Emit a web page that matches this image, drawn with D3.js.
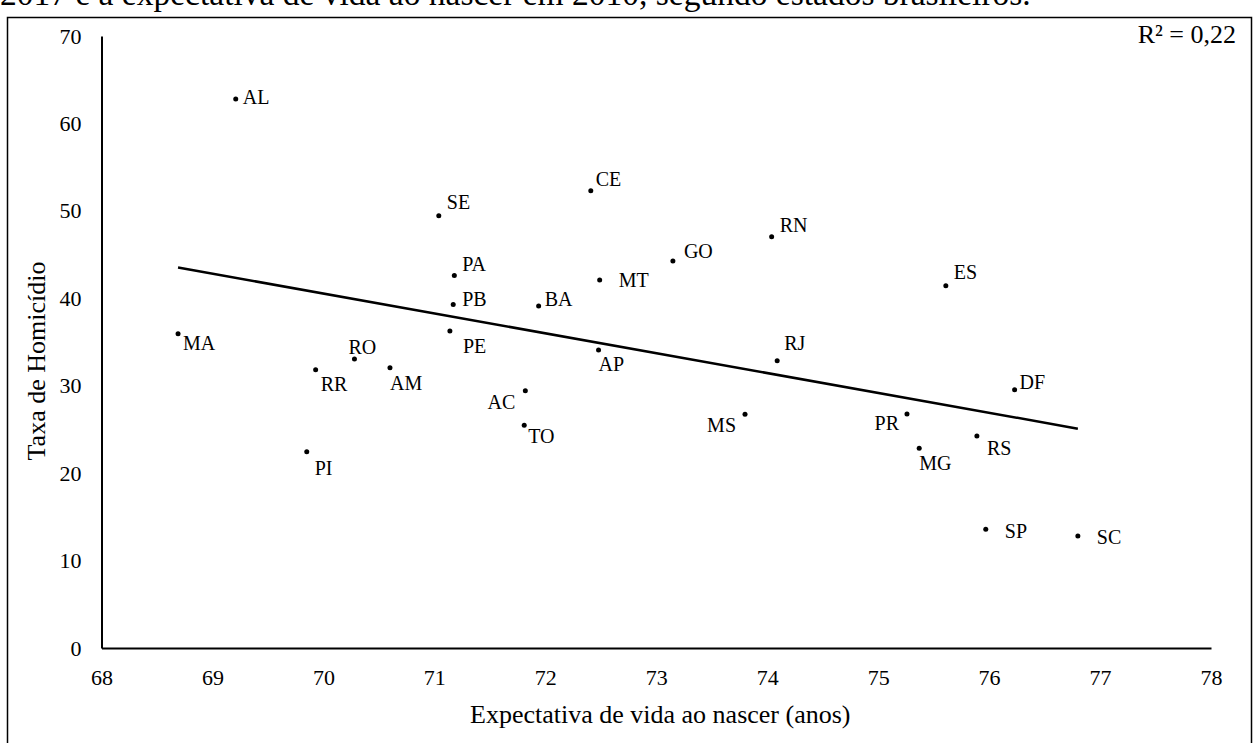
<!DOCTYPE html>
<html>
<head>
<meta charset="utf-8">
<script src="https://cdn.jsdelivr.net/npm/d3@7"></script>
<style>
  html,body{margin:0;padding:0;background:#fff;overflow:hidden;}
  svg{display:block;}
  svg text{font-family:"Liberation Serif","Times New Roman",serif;fill:#000;}
</style>
</head>
<body>
<div id="chart"></div>
<script>
// Brazilian states: life expectancy at birth (2010) vs homicide rate (2017)
const states=["AL","SE","PA","PB","PE","MA","RO","RR","AM","CE","RN","GO","MT","BA","AP","RJ","AC","TO","MS","ES","DF","PR","MG","RS","SP","SC","PI"];
const lifeExp=[69.21,71.04,71.18,71.17,71.14,68.69,70.28,69.93,70.60,72.41,74.04,73.15,72.49,71.94,72.48,74.09,71.82,71.81,73.80,75.61,76.23,75.26,75.37,75.89,75.97,76.80,69.85];
const homicide=[62.8,49.45,42.6,39.3,36.26,35.95,33.05,31.83,32.06,52.3,47.05,44.26,42.09,39.12,34.08,32.86,29.43,25.47,26.73,41.44,29.55,26.76,22.84,24.25,13.58,12.81,22.45];
const xTicks=[68,69,70,71,72,73,74,75,76,77,78];
const yTicks=[0,10,20,30,40,50,60,70];

// label placement around each dot (dx, dy, anchor)
const labelPlace={
  AL:[7,5,"start"],SE:[8,-7,"start"],PA:[8,-5,"start"],PB:[9,2,"start"],PE:[13,22,"start"],
  MA:[5,16,"start"],RO:[-6,-5,"start"],RR:[5,21,"start"],AM:[0,22,"start"],CE:[5,-5,"start"],
  RN:[8,-5,"start"],GO:[11,-3,"start"],MT:[19,7,"start"],BA:[6,0,"start"],AP:[0,21,"start"],
  RJ:[7,-11,"start"],AC:[-10,18,"end"],TO:[4,18,"start"],MS:[-9,18,"end"],ES:[8,-7,"start"],
  DF:[5,-1,"start"],PR:[-8,16,"end"],MG:[0,22,"start"],RS:[10,19,"start"],SP:[19,9,"start"],
  SC:[19,8,"start"],PI:[8,23,"start"]
};

const W=1256,H=743;
const data=states.map((s,i)=>({s,x:lifeExp[i],y:homicide[i]}));

const svg=d3.select("#chart").append("svg").attr("width",W).attr("height",H);

// caption line of the source document, cut by the top edge
svg.append("text")
  .attr("x",0).attr("y",5)
  .attr("font-size",33.5)
  .text("2017 e a expectativa de vida ao nascer em 2010, segundo estados brasileiros.");

svg.append("rect")
  .attr("x",7.5).attr("y",17.5).attr("width",1244).attr("height",740)
  .attr("fill","none").attr("stroke","#000").attr("stroke-width",1.5);

const x=d3.scaleLinear().domain([68,78]).range([101.5,1211]);
const y=d3.scaleLinear().domain([0,70]).range([648,36]);

const xAxis=svg.append("g")
  .attr("transform",`translate(0,${y(0)})`)
  .call(d3.axisBottom(x).tickValues(xTicks).tickSize(0).tickSizeOuter(0).tickFormat(d3.format("d")));
xAxis.selectAll("text").attr("dy",null).attr("y",37).attr("font-size",22);

const yAxis=svg.append("g")
  .attr("transform",`translate(${x(68)},0)`)
  .call(d3.axisLeft(y).tickValues(yTicks).tickSize(0).tickSizeOuter(0).tickFormat(d3.format("d")));
yAxis.selectAll("text").attr("x",-20).attr("font-size",22);

[xAxis,yAxis].forEach(a=>a.select(".domain").attr("stroke","#000").attr("stroke-width",2));

svg.append("text")
  .attr("x",(x(68)+x(78))/2+4).attr("y",723)
  .attr("text-anchor","middle").attr("font-size",26)
  .text("Expectativa de vida ao nascer (anos)");

svg.append("text")
  .attr("transform",`translate(45,${(y(0)+y(70))/2+19}) rotate(-90)`)
  .attr("text-anchor","middle").attr("font-size",26)
  .text("Taxa de Homicídio");

// least-squares trend line
const mx=d3.mean(data,d=>d.x),my=d3.mean(data,d=>d.y);
const slope=d3.sum(data,d=>(d.x-mx)*(d.y-my))/d3.sum(data,d=>(d.x-mx)**2);
const icpt=my-slope*mx;
const [x0,x1]=d3.extent(data,d=>d.x);
svg.append("line")
  .attr("x1",x(x0)).attr("y1",y(icpt+slope*x0))
  .attr("x2",x(x1)).attr("y2",y(icpt+slope*x1))
  .attr("stroke","#000").attr("stroke-width",2.5);

svg.append("g").selectAll("circle").data(data).join("circle")
  .attr("cx",d=>x(d.x)).attr("cy",d=>y(d.y)).attr("r",2.5).attr("fill","#000");

svg.append("g").selectAll("text").data(data).join("text")
  .attr("x",d=>x(d.x)+labelPlace[d.s][0])
  .attr("y",d=>y(d.y)+labelPlace[d.s][1])
  .attr("text-anchor",d=>labelPlace[d.s][2])
  .attr("font-size",20)
  .text(d=>d.s);

svg.append("text")
  .attr("x",1236).attr("y",43)
  .attr("text-anchor","end").attr("font-size",26)
  .text("R² = 0,22");
</script>
</body>
</html>
